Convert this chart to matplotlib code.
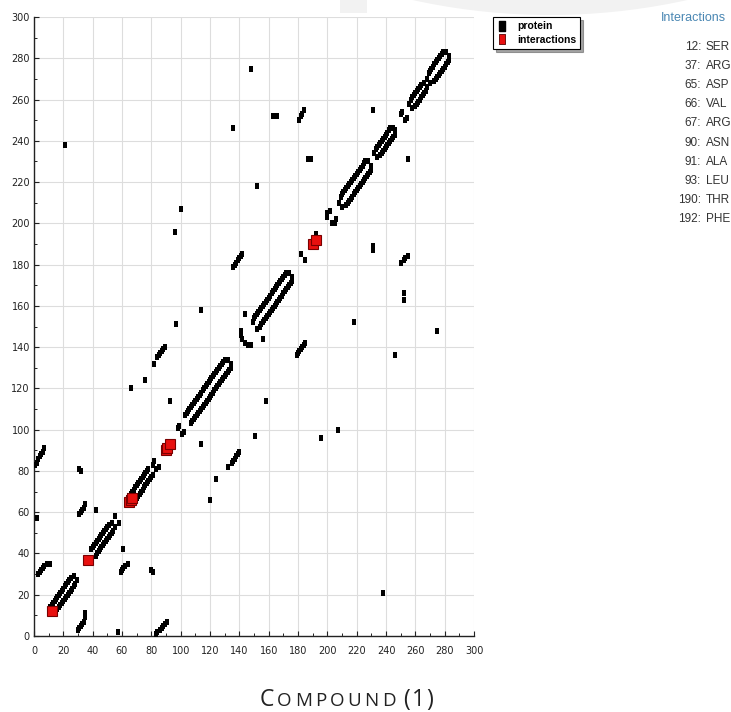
import matplotlib
matplotlib.use("Agg")
import matplotlib.pyplot as plt
from matplotlib.lines import Line2D
from matplotlib.patches import Ellipse, Rectangle

# ---------------- data ----------------
# interacting residues (drawn in red on the diagonal)
interaction_res = [12, 37, 65, 66, 67, 90, 91, 93, 190, 192]
interaction_names = ["SER", "ARG", "ASP", "VAL", "ARG", "ASN", "ALA", "LEU", "THR", "PHE"]

# long-range contacts (residue i, residue j)
long_range = [(21, 238), (238, 21), (100, 207), (207, 100), (136, 246), (246, 136),
              (148, 275), (275, 148), (163, 252), (166, 252), (252, 163), (252, 166),
              (231, 255), (255, 231), (187, 231), (189, 231), (231, 187), (231, 189),
              (152, 218), (218, 152), (114, 158), (158, 114), (144, 156), (156, 144),
              (97, 151), (151, 97), (96, 196), (196, 96), (66, 120), (120, 66),
              (76, 124), (124, 76), (82, 132), (132, 82), (93, 114), (114, 93),
              (57, 2), (2, 57), (31, 81), (32, 80), (81, 31), (80, 32),
              (61, 42), (42, 61), (55, 58), (58, 55)]

# short anti-parallel / parallel strands
strands = [(136, 179), (137, 180), (138, 181), (139, 182), (140, 183), (141, 184), (142, 185),
           (179, 136), (180, 137), (181, 138), (182, 139), (183, 140), (184, 141), (185, 142),
           (84, 135), (85, 136), (86, 137), (87, 138), (88, 139), (89, 140),
           (135, 84), (136, 85), (137, 86), (138, 87), (139, 88), (140, 89),
           (181, 250), (182, 252), (183, 253), (184, 255),
           (250, 181), (252, 182), (253, 183), (255, 184),
           (1, 83), (2, 84), (3, 86), (4, 87), (5, 88), (6, 89), (7, 91),
           (83, 1), (84, 2), (86, 3), (87, 4), (88, 5), (89, 6), (91, 7),
           (3, 30), (4, 31), (5, 32), (6, 33), (7, 34), (9, 35), (11, 35),
           (30, 3), (31, 4), (32, 5), (33, 6), (34, 7), (35, 9), (35, 11),
           (31, 59), (32, 60), (33, 61), (34, 62), (35, 64),
           (59, 31), (60, 32), (61, 33), (62, 34), (64, 35)]

# small near-diagonal contacts
near_diag = [(81, 83), (83, 81), (82, 85), (85, 82), (98, 101), (99, 102), (101, 98), (102, 99),
             (141, 148), (141, 146), (142, 144), (144, 142), (146, 141), (148, 141),
             (182, 185), (185, 182), (192, 195), (195, 192),
             (200, 203), (200, 205), (202, 206), (203, 200), (205, 200), (206, 202),
             (250, 253), (253, 250), (251, 254), (254, 251)]

# helical bands along the diagonal
band_A = [(11, 14), (12, 15), (13, 16), (14, 17), (15, 18), (16, 19), (17, 20), (18, 21),
          (19, 22), (20, 23), (21, 24), (22, 25), (23, 26), (24, 27), (25, 28), (27, 29),
          (14, 11), (15, 12), (16, 13), (17, 14), (18, 15), (19, 16), (20, 17), (21, 18),
          (22, 19), (23, 20), (24, 21), (25, 22), (26, 23), (27, 24), (28, 25), (29, 27)]
band_B = [(39, 42), (40, 43), (41, 44), (42, 45), (43, 46), (44, 47), (45, 48), (46, 49),
          (47, 50), (48, 51), (49, 52), (50, 53), (51, 54), (53, 55),
          (42, 39), (43, 40), (44, 41), (45, 42), (46, 43), (47, 44), (48, 45), (49, 46),
          (50, 47), (51, 48), (52, 49), (53, 50), (54, 51), (55, 53)]
band_C = [(64, 67), (65, 68), (66, 69), (67, 70), (68, 71), (69, 72), (70, 73), (71, 74),
          (72, 75), (73, 76), (74, 77), (75, 78), (76, 79), (77, 80), (78, 81),
          (67, 64), (68, 65), (69, 66), (70, 67), (71, 68), (72, 69), (73, 70), (74, 71),
          (75, 72), (76, 73), (77, 74), (78, 75), (79, 76), (80, 77), (81, 78)]
band_D = [(103, 107), (104, 108), (105, 109), (106, 110), (107, 111), (108, 112), (109, 113),
          (110, 114), (111, 115), (112, 116), (113, 117), (114, 118), (115, 119), (116, 120),
          (117, 121), (118, 122), (119, 123), (120, 124), (121, 125), (122, 126), (123, 127),
          (124, 128), (125, 129), (126, 130), (127, 131), (128, 132), (129, 133), (130, 134),
          (107, 103), (108, 104), (109, 105), (110, 106), (111, 107), (112, 108), (113, 109),
          (114, 110), (115, 111), (116, 112), (117, 113), (118, 114), (119, 115), (120, 116),
          (121, 117), (122, 118), (123, 119), (124, 120), (125, 121), (126, 122), (127, 123),
          (128, 124), (129, 125), (130, 126), (131, 127), (132, 128), (133, 129), (134, 130),
          (132, 134), (134, 132)]
band_E = [(149, 152), (150, 154), (151, 155), (152, 156), (153, 157), (154, 158), (155, 159),
          (156, 160), (157, 161), (158, 162), (159, 163), (160, 164), (161, 165), (162, 166),
          (163, 167), (164, 168), (165, 169), (166, 170), (167, 171), (168, 172), (169, 173),
          (170, 174), (171, 175), (172, 176), (174, 176),
          (152, 149), (154, 150), (155, 151), (156, 152), (157, 153), (158, 154), (159, 155),
          (160, 156), (161, 157), (162, 158), (163, 159), (164, 160), (165, 161), (166, 162),
          (167, 163), (168, 164), (169, 165), (170, 166), (171, 167), (172, 168), (173, 169),
          (174, 170), (175, 171), (176, 172), (176, 174)]
band_G = [(208, 210), (209, 213), (210, 214), (211, 215), (212, 216), (213, 217), (214, 218),
          (215, 219), (216, 220), (217, 221), (218, 222), (219, 223), (220, 224), (221, 225),
          (222, 226), (223, 227), (224, 228), (225, 229), (226, 230), (228, 230),
          (210, 208), (213, 209), (214, 210), (215, 211), (216, 212), (217, 213), (218, 214),
          (219, 215), (220, 216), (221, 217), (222, 218), (223, 219), (224, 220), (225, 221),
          (226, 222), (227, 223), (228, 224), (229, 225), (230, 226), (230, 228)]
band_H = [(232, 234), (233, 236), (234, 237), (235, 238), (236, 239), (237, 240), (238, 241),
          (239, 242), (240, 243), (241, 244), (242, 245), (243, 246), (245, 246),
          (234, 232), (236, 233), (237, 234), (238, 235), (239, 236), (240, 237), (241, 238),
          (242, 239), (243, 240), (244, 241), (245, 242), (246, 243), (246, 245)]
band_I = [(256, 258), (257, 260), (258, 261), (259, 262), (260, 263), (261, 264), (262, 265),
          (263, 266), (264, 267), (266, 268),
          (258, 256), (260, 257), (261, 258), (262, 259), (263, 260), (264, 261), (265, 262),
          (266, 263), (267, 264), (268, 266)]
band_J = [(268, 270), (269, 273), (270, 274), (271, 275), (272, 276), (273, 277), (274, 278),
          (275, 279), (276, 280), (277, 281), (278, 282), (279, 283), (281, 283),
          (270, 268), (273, 269), (274, 270), (275, 271), (276, 272), (277, 273), (278, 274),
          (279, 275), (280, 276), (281, 277), (282, 278), (283, 279), (283, 281)]

x_ticks = list(range(0, 301, 20))
y_ticks = list(range(0, 301, 20))

# ---------------- figure ----------------
W, H = 731, 712
fig = plt.figure(figsize=(W / 100, H / 100), dpi=100)

# faint watermark shapes at the top
fig.patches.append(Ellipse((550 / W, 1 + 627 / H), 2 * 640 / W, 2 * 642 / H,
                           transform=fig.transFigure, facecolor="#f2f2f2",
                           edgecolor="none", zorder=0))
fig.patches.append(Rectangle((340 / W, 1 - 13 / H), 27 / W, 13 / H, transform=fig.transFigure,
                             facecolor="#f2f2f2", edgecolor="none", zorder=0))

ax = fig.add_axes([34 / W, 1 - 636 / H, 440 / W, 619 / H])
ax.patch.set_alpha(0)

contacts = (long_range + strands + near_diag + band_A + band_B + band_C + band_D + band_E
            + band_G + band_H + band_I + band_J)
cx = [p[0] for p in contacts]
cy = [p[1] for p in contacts]
rect = [(-0.4, -0.5), (0.4, -0.5), (0.4, 0.5), (-0.4, 0.5), (-0.4, -0.5)]
ax.plot(cx, cy, linestyle="none", marker=rect, markersize=4.0, color="black",
        markeredgewidth=0, zorder=3)
ax.plot(interaction_res, interaction_res, linestyle="none", marker="s", markersize=7,
        markerfacecolor="#e8100f", markeredgecolor="#7a0000", markeredgewidth=0.8, zorder=4)

ax.set_xlim(0, 300)
ax.set_ylim(0, 300)
ax.set_xticks(x_ticks)
ax.set_yticks(y_ticks)
ax.set_xticks(range(10, 300, 20), minor=True)
ax.set_yticks(range(10, 300, 20), minor=True)
ax.grid(True, which="major", color="#dddddd", linewidth=0.8, zorder=0)
ax.set_axisbelow(True)
for s in ["top", "right"]:
    ax.spines[s].set_visible(False)
for s in ["left", "bottom"]:
    ax.spines[s].set_color("#222222")
    ax.spines[s].set_linewidth(1.0)
ax.tick_params(which="major", direction="in", length=3.5, width=0.8, color="#222222",
               labelsize=7, labelcolor="#222222")
ax.tick_params(which="minor", direction="in", length=2, width=0.7, color="#222222")
ax.tick_params(axis="x", which="major", pad=7)
ax.tick_params(axis="y", which="major", pad=3)

# legend
narrow = ["Liberation Sans Narrow", "Liberation Sans", "DejaVu Sans"]
legrect = [(-0.3, -0.5), (0.3, -0.5), (0.3, 0.5), (-0.3, 0.5), (-0.3, -0.5)]
handles = [Line2D([], [], linestyle="none", marker=legrect, markersize=6.5, color="black"),
           Line2D([], [], linestyle="none", marker=legrect, markersize=7, markerfacecolor="#e8100f",
                  markeredgecolor="#5a0000", markeredgewidth=0.6)]
leg = fig.legend(handles, ["protein", "interactions"], loc="upper left",
                 bbox_to_anchor=(493 / W, 1 - 17 / H), bbox_transform=fig.transFigure,
                 frameon=True, fancybox=False, shadow=True, edgecolor="black",
                 prop={"family": narrow, "size": 7.5, "weight": "bold"},
                 handlelength=1.0, handletextpad=0.9, borderpad=0.4, labelspacing=0.35,
                 borderaxespad=0)
leg.get_frame().set_linewidth(0.8)

# interactions list
fig.text(661 / W, 1 - 18 / H, "Interactions", ha="left", va="center", fontsize=9,
         color="#4a87b3", family=narrow)
row0, step = 46.7, 19.2
for k, (res, nm) in enumerate(zip(interaction_res, interaction_names)):
    yy = 1 - (row0 + k * step) / H
    fig.text(701 / W, yy, f"{res}:", ha="right", va="center", fontsize=8.5, color="#333333",
             family=narrow)
    fig.text(706 / W, yy, nm, ha="left", va="center", fontsize=8.5, color="#333333",
             family=narrow)

# caption in small caps with letter spacing
cap_font = ["Open Sans", "DejaVu Sans"]
cap_y = 1 - 706 / H
fig.canvas.draw()
renderer = fig.canvas.get_renderer()
pieces = [("C", 16.5, 3), ("O", 13.5, 3.2), ("M", 13.5, 3.2), ("P", 13.5, 3.2), ("O", 13.5, 3.2),
          ("U", 13.5, 3.2), ("N", 13.5, 3.2), ("D", 13.5, 8), ("(", 16.5, 1.5), ("1", 16.5, 1.5),
          (")", 16.5, 0)]
xpos = 260.0
for ch, sz, gap in pieces:
    t = fig.text(xpos / W, cap_y, ch, ha="left", va="baseline", fontsize=sz,
                 color="#222222", family=cap_font)
    bb = t.get_window_extent(renderer)
    xpos = bb.x1 + gap

fig.savefig("out.png", dpi=100, facecolor="white")
